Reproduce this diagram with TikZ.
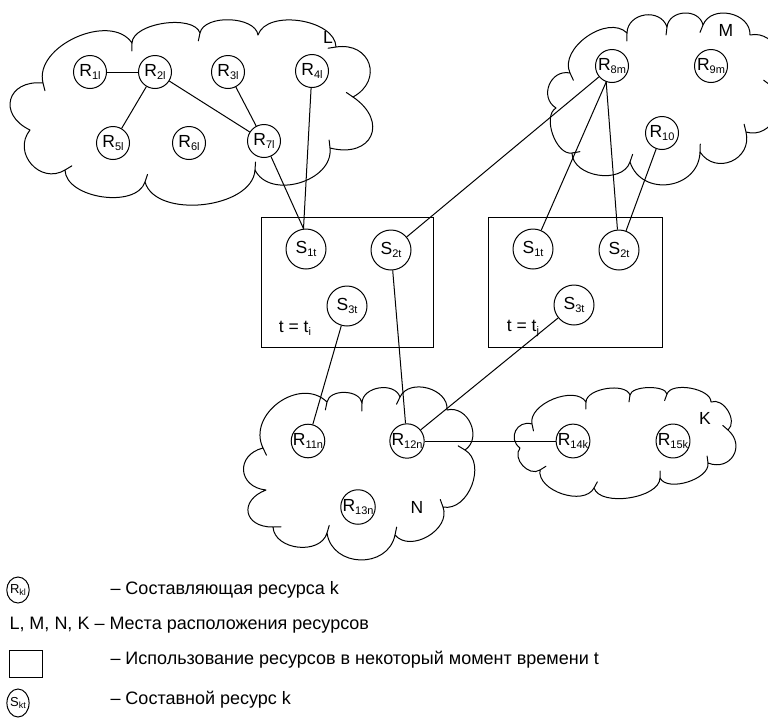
\documentclass[tikz,border=0pt]{standalone}
\usepackage{fontspec}
\setmainfont{Liberation Sans}
\usetikzlibrary{calc,shapes.geometric}
\newcommand\lsub[1]{\raisebox{-3pt}{\fontsize{11}{11}\selectfont #1}}
\newcommand\lsubs[1]{\raisebox{-2pt}{\fontsize{9}{9}\selectfont #1}}
\begin{document}
\begin{tikzpicture}[x=1pt,y=-1pt,line width=1pt,
  font=\fontsize{17.5}{19}\selectfont,
  rn/.style={circle,draw,minimum size=33pt,inner sep=0pt},
  sn/.style={circle,draw,minimum size=40pt,inner sep=0pt},
  lb/.style={bend left=80,looseness=#1},
  cloudline/.style={line join=round},
  tuck/.style={line cap=round},
  legtext/.style={anchor=west,inner sep=0pt,font=\fontsize{18}{20}\selectfont}]
\useasboundingbox (0,0) rectangle (768,718);
% ---------- cloud L ----------
\coordinate (L1) at (43,83);  \coordinate (L2) at (132,43); \coordinate (L3) at (200,33);
\coordinate (L4) at (258,35); \coordinate (L5) at (336,47); \coordinate (L6) at (353,97);
\coordinate (L7) at (330,148);\coordinate (L8) at (255,170);\coordinate (L9) at (145,182);
\coordinate (L10) at (65,170);\coordinate (L11) at (30,130);
\draw[cloudline] (L1) to[lb=1.0] (L2) to[lb=0.75] (L3) to[lb=0.85] (L4) to[lb=0.9] (L5)
  to[lb=1.7] (L6) to[lb=2.0] (L7) to[lb=1.1] (L8) to[lb=0.9] (L9) to[lb=0.9] (L10)
  to[lb=1.4] (L11) to[lb=1.9] (L1);
\foreach \a/\b in {L1/L2,L2/L3,L3/L4,L5/L6,L6/L7,L7/L8,L8/L9,L9/L10,L10/L11}
  \draw[tuck] (\a) -- ($(\a)!8pt!260:(\b)$);
% ---------- cloud M ----------
\coordinate (M1) at (570,73);  \coordinate (M2) at (627,33); \coordinate (M3) at (667,27);
\coordinate (M4) at (703,25);  \coordinate (M5) at (750,35); \coordinate (M6) at (770,85);
\coordinate (M7) at (746,132); \coordinate (M8) at (700,152);\coordinate (M9) at (630,162);
\coordinate (M10) at (572,153);\coordinate (M11) at (556,108);
\draw[cloudline] (M1) to[lb=1.0] (M2) to[lb=1.3] (M3) to[lb=1.25] (M4) to[lb=1.2] (M5)
  to[lb=1.3] (M6) to[lb=1.3] (M7) to[lb=1.45] (M8) to[lb=1.36] (M9) to[lb=1.05] (M10)
  to[lb=0.87] (M11) to[lb=1.37] (M1);
\foreach \a/\b in {M1/M2,M2/M3,M3/M4,M4/M5,M6/M7,M7/M8,M8/M9,M9/M10,M10/M11}
  \draw[tuck] (\a) -- ($(\a)!8pt!260:(\b)$);
% ---------- cloud N ----------
\coordinate (N1) at (263,448); \coordinate (N2) at (327,402); \coordinate (N3) at (362,403);
\coordinate (N4) at (400,397); \coordinate (N5) at (447,410); \coordinate (N6) at (465,450);
\coordinate (N7) at (443,507); \coordinate (N8) at (395,535); \coordinate (N9) at (327,533);
\coordinate (N10) at (273,527);\coordinate (N11) at (266,490);
\draw[cloudline] (N1) to[lb=1.22] (N2) to[lb=1.0] (N3) to[lb=1.1] (N4) to[lb=1.13] (N5)
  to[lb=1.26] (N6) to[lb=1.08] (N7) to[lb=1.1] (N8) to[lb=1.32] (N9) to[lb=1.1] (N10)
  to[lb=2.0] (N11) to[lb=1.73] (N1);
\foreach \a/\b in {N1/N2,N2/N3,N3/N4,N4/N5,N6/N7,N7/N8,N8/N9,N9/N10,N10/N11}
  \draw[tuck] (\a) -- ($(\a)!8pt!260:(\b)$);
% ---------- cloud K ----------
\coordinate (K1) at (532,424); \coordinate (K2) at (586,402); \coordinate (K3) at (630,395);
\coordinate (K4) at (667,394); \coordinate (K5) at (711,402); \coordinate (K6) at (728,430);
\coordinate (K7) at (708,463); \coordinate (K8) at (660,478); \coordinate (K9) at (594,488);
\coordinate (K10) at (540,470);\coordinate (K11) at (520,448);
\draw[cloudline] (K1) to[lb=0.9] (K2) to[lb=0.78] (K3) to[lb=0.65] (K4) to[lb=0.77] (K5)
  to[lb=1.05] (K6) to[lb=1.6] (K7) to[lb=0.83] (K8) to[lb=0.78] (K9) to[lb=0.95] (K10)
  to[lb=1.15] (K11) to[lb=1.5] (K1);
\foreach \a/\b in {K1/K2,K2/K3,K3/K4,K4/K5,K6/K7,K7/K8,K8/K9,K9/K10,K10/K11}
  \draw[tuck] (\a) -- ($(\a)!7pt!260:(\b)$);
% ---------- cloud labels ----------
\node (lL) at (328,37) {L};
\node (lM) at (726,30) {M};
\node (lN) at (417,507) {N};
\node (lK) at (705,418) {K};
% ---------- resource nodes ----------
\node[rn] (r1) at (90,72) {R\lsub{1l}};
\node[rn] (r2) at (155,72) {R\lsub{2l}};
\node[rn] (r3) at (228,72) {R\lsub{3l}};
\node[rn] (r4) at (312,71) {R\lsub{4l}};
\node[rn] (r5) at (113,143) {R\lsub{5l}};
\node[rn] (r6) at (189,143) {R\lsub{6l}};
\node[rn] (r7) at (264,141) {R\lsub{7l}};
\node[rn] (r8) at (612,66) {R\lsub{8m}};
\node[rn] (r9) at (711,66) {R\lsub{9m}};
\node[rn] (r10) at (662,133) {R\lsub{10}};
\node[rn] (r11) at (308,441) {R\lsub{11n}};
\node[rn] (r12) at (407,441) {R\lsub{12n}};
\node[rn] (r13) at (358,507) {R\lsub{13n}};
\node[rn] (r14) at (573,441) {R\lsub{14k}};
\node[rn] (r15) at (673,441) {R\lsub{15k}};
% ---------- time boxes ----------
\node[draw,minimum width=172pt,minimum height=130pt,inner sep=0pt] (b1) at (347,282) {};
\node[draw,minimum width=174pt,minimum height=130pt,inner sep=0pt] (b2) at (575,282) {};
\node[sn] (s11) at (306,249) {S\lsub{1t}};
\node[sn] (s12) at (391,250) {S\lsub{2t}};
\node[sn] (s13) at (347,306) {S\lsub{3t}};
\node[sn] (s21) at (533,249) {S\lsub{1t}};
\node[sn] (s22) at (619,250) {S\lsub{2t}};
\node[sn] (s23) at (574,305) {S\lsub{3t}};
\node (ti) at (295,328) {t = t\lsub{i}};
\node (tj) at (523,328) {t = t\lsub{j}};
% ---------- connectors ----------
\draw (r1) -- (r2);
\draw (r2) -- (r5);
\draw (r2) -- (r7);
\draw (r3) -- (r7);
\draw (r7) -- (s11.97);
\draw (r4) -- (s11.97);
\draw (r8) -- (s12);
\draw (r8.250) -- (s21);
\draw (r8.250) -- (s22);
\draw (r10) -- (s22);
\draw (s13) -- (r11);
\draw (s12) -- (r12);
\draw (s23) -- (r12);
\draw (r12) -- (r14);
% ---------- legend ----------
\node[draw,ellipse,minimum width=20pt,minimum height=26pt,inner sep=0pt] (lr) at (18,590)
  {\fontsize{13}{13}\selectfont R\lsubs{kl}};
\node[legtext] (t1) at (110,590) {– Составляющая ресурса k};
\node[legtext] (t2) at (9,625) {L, M, N, K – Места расположения ресурсов};
\node[draw,minimum width=33pt,minimum height=27pt,inner sep=0pt] (sq) at (25.5,663.5) {};
\node[legtext] (t3) at (110,660) {– Использование ресурсов в некоторый момент времени t};
\node[draw,ellipse,minimum width=20pt,minimum height=28pt,inner sep=0pt] (ls) at (18,703)
  {\fontsize{13}{13}\selectfont S\lsubs{kt}};
\node[legtext] (t4) at (110,700) {– Составной ресурс k};
\end{tikzpicture}
\end{document}
